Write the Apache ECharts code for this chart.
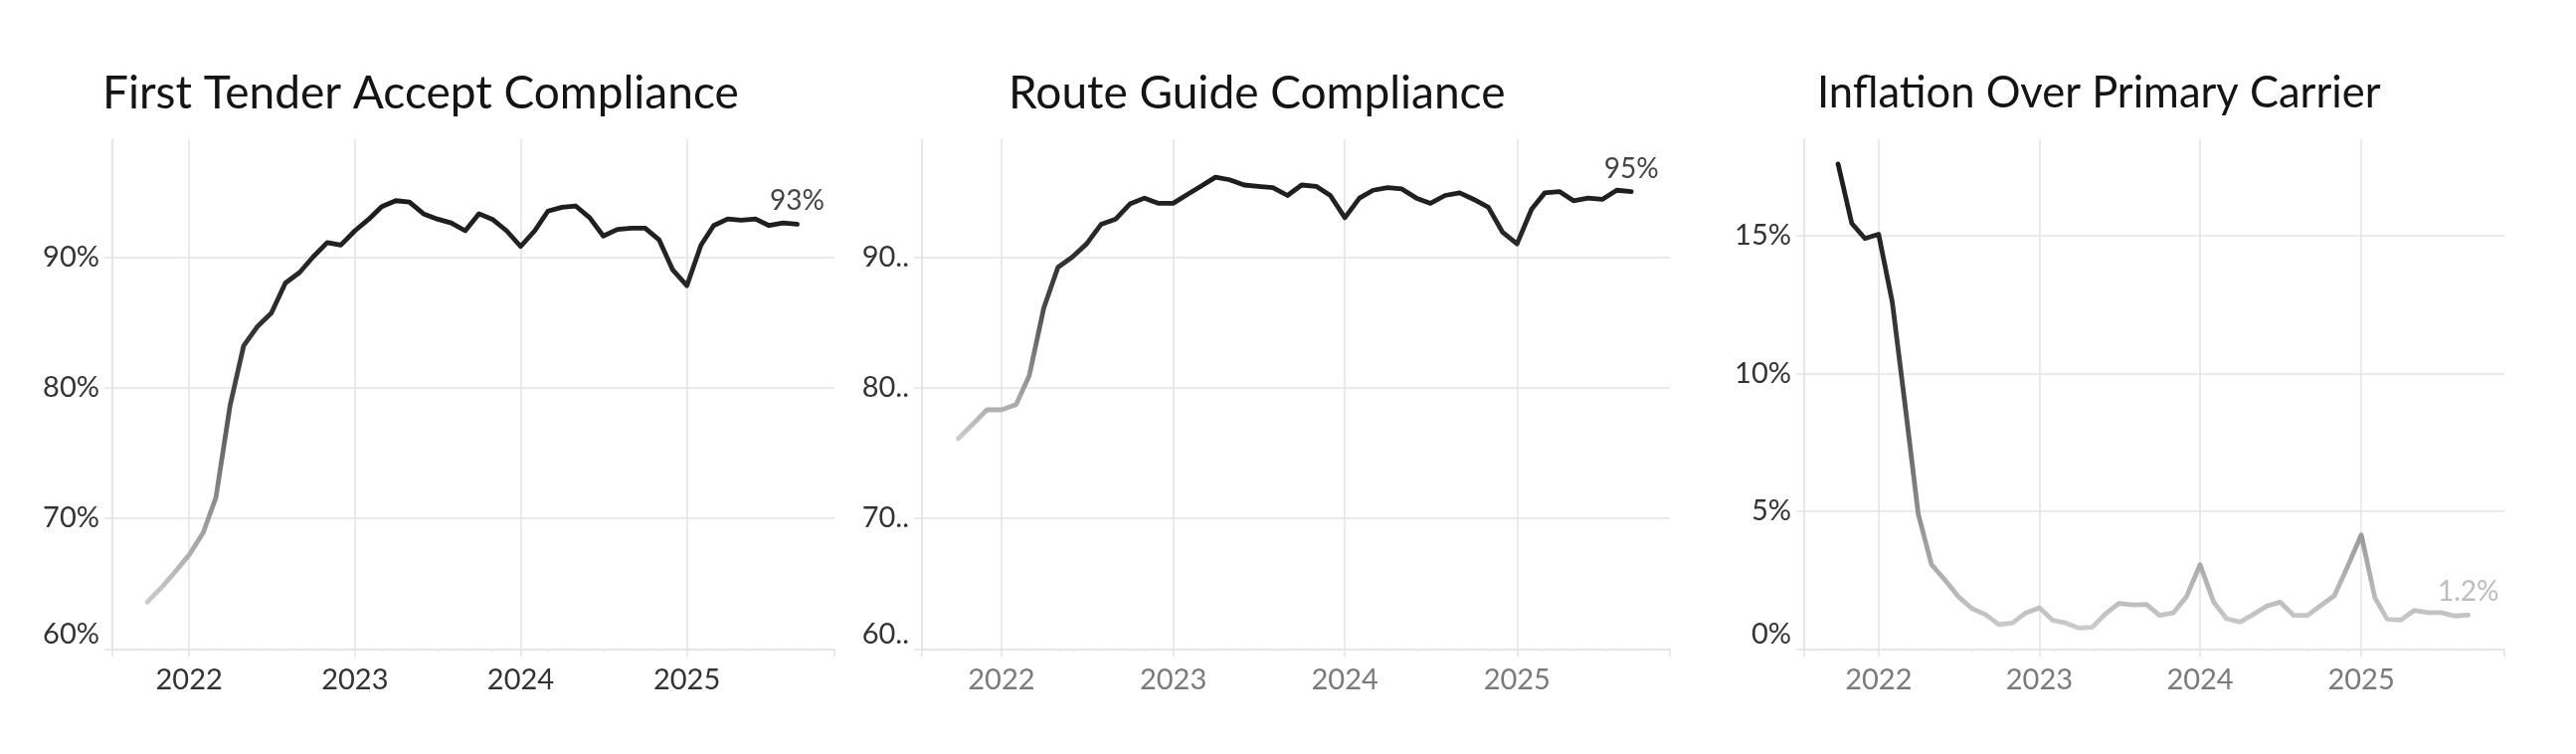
<!DOCTYPE html>
<html>
<head>
<meta charset="utf-8">
<script src="https://cdn.jsdelivr.net/npm/echarts@6.0.0/dist/echarts.min.js"></script>
<style>
  html, body { margin: 0; padding: 0; background: #ffffff; }
  #chart { width: 2590px; height: 758px; }
</style>
</head>
<body>
<div id="chart"></div>
<script>
// ---------- DATA ----------
const months = [
  '2021-10-01','2021-11-01','2021-12-01',
  '2022-01-01','2022-02-01','2022-03-01','2022-04-01','2022-05-01','2022-06-01',
  '2022-07-01','2022-08-01','2022-09-01','2022-10-01','2022-11-01','2022-12-01',
  '2023-01-01','2023-02-01','2023-03-01','2023-04-01','2023-05-01','2023-06-01',
  '2023-07-01','2023-08-01','2023-09-01','2023-10-01','2023-11-01','2023-12-01',
  '2024-01-01','2024-02-01','2024-03-01','2024-04-01','2024-05-01','2024-06-01',
  '2024-07-01','2024-08-01','2024-09-01','2024-10-01','2024-11-01','2024-12-01',
  '2025-01-01','2025-02-01','2025-03-01','2025-04-01','2025-05-01','2025-06-01',
  '2025-07-01','2025-08-01','2025-09-01'
];

const firstTenderAccept = [
  63.6, 64.7, 65.9,
  67.2, 68.9, 71.6, 78.6, 83.2, 84.7, 85.7, 88.0, 88.8, 90.0, 91.1, 90.9,
  92.0, 92.9, 93.85, 94.3, 94.2, 93.3, 92.9, 92.6, 92.0, 93.3, 92.85, 92.0,
  90.8, 92.0, 93.5, 93.8, 93.9, 93.0, 91.6, 92.1, 92.2, 92.2, 91.3, 89.0,
  87.8, 90.9, 92.4, 92.9, 92.8, 92.9, 92.4, 92.6, 92.5
];

const routeGuide = [
  76.1, 77.2, 78.3,
  78.3, 78.7, 80.9, 86.1, 89.2, 90.0, 91.0, 92.5, 92.9, 94.05, 94.5, 94.1,
  94.1, 94.8, 95.4, 96.1, 95.9, 95.5, 95.4, 95.3, 94.7, 95.5, 95.4, 94.7,
  93.0, 94.5, 95.1, 95.3, 95.2, 94.5, 94.1, 94.7, 94.9, 94.4, 93.8, 91.9,
  91.0, 93.65, 94.9, 95.0, 94.3, 94.5, 94.4, 95.1, 95.0
];

const inflationOverPrimary = [
  17.6, 15.45, 14.9,
  15.05, 12.6, 9.0, 4.9, 3.07, 2.5, 1.9, 1.47, 1.25, 0.89, 0.94, 1.31,
  1.5, 1.04, 0.95, 0.76, 0.79, 1.29, 1.66, 1.6, 1.62, 1.22, 1.31, 1.9,
  3.06, 1.7, 1.1, 0.98, 1.26, 1.56, 1.7, 1.22, 1.22, 1.58, 1.94, 3.0,
  4.14, 1.86, 1.08, 1.05, 1.4, 1.32, 1.32, 1.2, 1.23
];

const titles = ['First Tender Accept Compliance', 'Route Guide Compliance', 'Inflation Over Primary Carrier'];

// ---------- STYLE / LAYOUT ----------
const FONT = 'Lato';
const GRID_COLOR = '#e3e3e3';
const YEAR_MS = 365 * 24 * 3600 * 1000;
const grids = [
  { left: 113, top: 140, width: 726, height: 512.5 },
  { left: 927, top: 140, width: 752, height: 512.5 },
  { left: 1814, top: 140, width: 704, height: 512.5 }
];
const titleLefts = [103, 1014, 1827];
const titleSizes = [46, 46, 43.5];
const xLabelColors = ['#333333', '#7a7a7a', '#7a7a7a'];
const endLabelColors = ['#444444', '#444444', '#bdbdbd'];
const rampColors = ['#cbcbcb', '#8e8e8e', '#4a4a4a', '#2a2a2a', '#1c1c1c'];

const seriesValues = [firstTenderAccept, routeGuide, inflationOverPrimary];
const yConf = [
  { min: 60, max: 99, interval: 10, fmt: v => v + '%' },
  { min: 60, max: 99, interval: 10, fmt: v => v + '..' },
  { min: 0, max: 18.5, interval: 5, fmt: v => v + '%' }
];
const endFmt = [
  v => Math.round(v) + '%',
  v => Math.round(v) + '%',
  v => v.toFixed(1) + '%'
];

const option = {
  animation: false,
  backgroundColor: '#ffffff',
  title: titles.map((t, i) => ({
    text: t,
    left: titleLefts[i],
    top: 69,
    padding: 0,
    textStyle: { fontFamily: FONT, fontSize: titleSizes[i], fontWeight: 'normal', color: '#141414', lineHeight: 50 }
  })),
  grid: grids,
  xAxis: grids.map((g, i) => ({
    type: 'time',
    gridIndex: i,
    min: '2021-07-16',
    max: '2025-11-22',
    splitNumber: 3,
    minInterval: YEAR_MS,
    maxInterval: YEAR_MS * 1.01,
    axisLine: { show: true, lineStyle: { color: GRID_COLOR, width: 1.5 } },
    axisTick: { show: true, length: 8, lineStyle: { color: GRID_COLOR, width: 1.5 } },
    minorTick: { show: true, splitNumber: 12, length: 3, lineStyle: { color: '#ececec', width: 1 } },
    splitLine: { show: true, showMaxLine: false, lineStyle: { color: GRID_COLOR, width: 1.5 } },
    minorSplitLine: { show: false },
    axisLabel: {
      formatter: '{yyyy}',
      showMinLabel: false,
      showMaxLabel: false,
      fontFamily: FONT, fontSize: 29, color: xLabelColors[i], margin: 17,
      fontWeight: 'normal'
    }
  })),
  yAxis: grids.map((g, i) => ({
    type: 'value',
    gridIndex: i,
    min: yConf[i].min,
    max: yConf[i].max,
    interval: yConf[i].interval,
    axisLine: { show: true, lineStyle: { color: GRID_COLOR, width: 1.5 } },
    axisTick: { show: true, length: 8, lineStyle: { color: GRID_COLOR, width: 1.5 } },
    splitLine: { show: true, showMaxLine: false, lineStyle: { color: GRID_COLOR, width: 1.5 } },
    axisLabel: {
      showMaxLabel: false,
      verticalAlignMinLabel: 'bottom',
      formatter: yConf[i].fmt,
      fontFamily: FONT, fontSize: 29, color: '#333333', margin: 13
    }
  })),
  visualMap: seriesValues.map((vals, i) => ({
    type: 'continuous',
    show: false,
    seriesIndex: i,
    dimension: 1,
    min: Math.min(...vals),
    max: Math.max(...vals),
    inRange: { color: rampColors }
  })),
  series: seriesValues.map((vals, i) => {
    const data = months.map((m, j) => [m, vals[j]]);
    const last = data.length - 1;
    data[last] = {
      value: data[last],
      label: {
        show: true,
        position: 'top',
        distance: 9,
        formatter: p => endFmt[i](p.value[1]),
        fontFamily: FONT, fontSize: 28, color: endLabelColors[i]
      }
    };
    return {
      type: 'line',
      xAxisIndex: i,
      yAxisIndex: i,
      data: data,
      showSymbol: true,
      symbol: 'circle',
      symbolSize: 0,
      silent: true,
      label: { show: false },
      lineStyle: { width: 4.8, cap: 'round', join: 'round' },
      z: 5
    };
  })
};

const chart = echarts.init(document.getElementById('chart'), null, { renderer: 'canvas' });
chart.setOption(option);
</script>
</body>
</html>
